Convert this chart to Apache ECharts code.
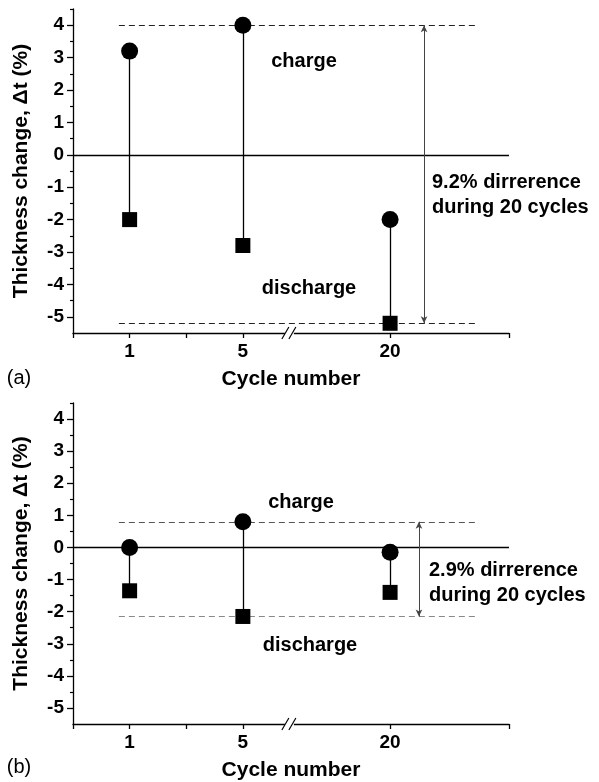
<!DOCTYPE html>
<html>
<head>
<meta charset="utf-8">
<script src="https://cdn.jsdelivr.net/npm/echarts@6/dist/echarts.min.js"></script>
<style>
  html, body { margin: 0; padding: 0; background: #fff; }
  #chart { width: 599px; height: 782px; }
</style>
</head>
<body>
<div id="chart"></div>
<script>
// cycle labels and where they sit on the broken x axis
const cycles = ['1', '5', '20']
const cyclePos = [1, 3, 5.6]
const xTicks = [0, 1, 2, 3, 5.6, 7.7]
const breakPos = 3.83

// panel (a)
const chargeA = [3.2, 4.0, -2.0]
const dischargeA = [-2.0, -2.8, -5.2]
// panel (b)
const chargeB = [0.0, 0.8, -0.15]
const dischargeB = [-1.35, -2.15, -1.4]

const yTicks = [-5, -4, -3, -2, -1, 0, 1, 2, 3, 4]
const yMinor = [-4.5, -3.5, -2.5, -1.5, -0.5, 0.5, 1.5, 2.5, 3.5, 4.5]

const FONT = '"Liberation Sans", Arial, sans-serif'

function xAxis (i) {
  return {
    type: 'value',
    gridIndex: i,
    min: 0,
    max: 7.7,
    name: 'Cycle number',
    nameLocation: 'middle',
    nameGap: 36,
    nameTextStyle: { fontFamily: FONT, fontWeight: 'bold', fontSize: 21, color: '#000' },
    axisLine: { onZero: false, lineStyle: { color: '#000', width: 1.3 } },
    axisTick: { customValues: xTicks, length: 5, lineStyle: { color: '#000', width: 1.3 } },
    axisLabel: {
      customValues: cyclePos,
      formatter: v => cycles[cyclePos.indexOf(v)],
      fontFamily: FONT,
      fontWeight: 'bold',
      fontSize: 19,
      color: '#000',
      margin: 9
    },
    splitLine: { show: false }
  }
}

function yAxes (i) {
  return [{
    type: 'value',
    gridIndex: i,
    min: -5.5,
    max: 4.5,
    name: 'Thickness change, \u0394t (%)',
    nameLocation: 'middle',
    nameRotate: 90,
    nameGap: 41,
    nameTextStyle: { fontFamily: FONT, fontWeight: 'bold', fontSize: 21, color: '#000' },
    axisLine: { show: true, onZero: false, lineStyle: { color: '#000', width: 1.3 } },
    axisTick: { customValues: yTicks, length: 6, lineStyle: { color: '#000', width: 1.3 } },
    axisLabel: {
      customValues: yTicks,
      fontFamily: FONT,
      fontWeight: 'bold',
      fontSize: 19,
      color: '#000',
      margin: 9
    },
    splitLine: { show: false }
  }, {
    type: 'value',
    gridIndex: i,
    min: -5.5,
    max: 4.5,
    position: 'left',
    axisLine: { show: false, onZero: false },
    axisTick: { show: true, customValues: yMinor, length: 3, lineStyle: { color: '#000', width: 1.2 } },
    axisLabel: { show: false },
    splitLine: { show: false }
  }]
}

function panelSeries (i, charge, discharge, arrowX, dashColors) {
  const top = Math.max(...charge)
  const bottom = Math.min(...discharge)
  return [{
    type: 'line',
    xAxisIndex: i,
    yAxisIndex: 2 * i,
    data: [],
    silent: true,
    markLine: {
      silent: true,
      animation: false,
      symbol: 'none',
      label: { show: false },
      data: [
        [{ coord: [0, 0], lineStyle: { color: '#000', width: 1.3, type: 'solid' } }, { coord: [7.7, 0] }],
        [{ coord: [0.81, top], lineStyle: { color: dashColors[0], width: 1, type: [6, 4] } }, { coord: [7.16, top] }],
        [{ coord: [0.81, bottom], lineStyle: { color: dashColors[1], width: 1, type: [6, 4] } }, { coord: [7.16, bottom] }]
      ]
    }
  }, {
    type: 'line',
    xAxisIndex: i,
    yAxisIndex: 2 * i,
    data: [],
    silent: true,
    markLine: {
      silent: true,
      animation: false,
      symbol: ['arrow', 'arrow'],
      symbolSize: [5, 7],
      label: { show: false },
      lineStyle: { color: '#444', width: 1, type: 'solid' },
      data: [[{ coord: [arrowX, top] }, { coord: [arrowX, bottom] }]]
    }
  }, {
    type: 'scatter',
    xAxisIndex: i,
    yAxisIndex: 2 * i,
    symbol: 'circle',
    symbolSize: 17,
    itemStyle: { color: '#000', opacity: 1 },
    z: 5,
    data: cyclePos.map((x, k) => [x, charge[k]]),
    markLine: {
      silent: true,
      animation: false,
      symbol: 'none',
      label: { show: false },
      lineStyle: { color: '#000', width: 1.3, type: 'solid' },
      data: cyclePos.map((x, k) => [{ coord: [x, charge[k]] }, { coord: [x, discharge[k]] }])
    }
  }, {
    type: 'scatter',
    xAxisIndex: i,
    yAxisIndex: 2 * i,
    symbol: 'rect',
    symbolSize: 15,
    itemStyle: { color: '#000', opacity: 1 },
    z: 5,
    data: cyclePos.map((x, k) => [x, discharge[k]])
  }]
}

function txt (x, y, s, opts) {
  return {
    type: 'text',
    x: x,
    y: y,
    z: 10,
    style: Object.assign({
      text: s,
      fontFamily: FONT,
      fontWeight: 'bold',
      fontSize: 20,
      fill: '#000',
      align: 'center',
      verticalAlign: 'middle'
    }, opts || {})
  }
}

const chart = echarts.init(document.getElementById('chart'))
chart.setOption({
  animation: false,
  grid: [
    { left: 73, width: 436, top: 9, height: 324 },
    { left: 73, width: 436, top: 403, height: 324 }
  ],
  xAxis: [xAxis(0), xAxis(1)],
  yAxis: yAxes(0).concat(yAxes(1)),
  series: panelSeries(0, chargeA, dischargeA, 6.2, ['#222', '#222'])
    .concat(panelSeries(1, chargeB, dischargeB, 6.11, ['#555', '#888']))
})

// texts and the "//" axis break marks
const graphics = [
  txt(304, 61, 'charge'),
  txt(309, 288, 'discharge'),
  txt(432, 195, '9.2% dirrerence\nduring 20 cycles', { align: 'left', lineHeight: 25 }),
  txt(19, 378, '(a)', { fontWeight: 'normal', fontSize: 20 }),
  txt(301, 502, 'charge'),
  txt(310, 645, 'discharge'),
  txt(429, 583, '2.9% dirrerence\nduring 20 cycles', { align: 'left', lineHeight: 25 }),
  txt(19, 767, '(b)', { fontWeight: 'normal', fontSize: 20 })
]
;[0, 1].forEach(i => {
  const p = chart.convertToPixel({ xAxisIndex: i, yAxisIndex: 2 * i }, [breakPos, -5.5])
  graphics.push({ type: 'rect', z: 10, shape: { x: p[0] - 5, y: p[1] - 2, width: 9, height: 4 }, style: { fill: '#fff' } })
  graphics.push({ type: 'line', z: 11, shape: { x1: p[0] - 8, y1: p[1] + 6, x2: p[0] - 1, y2: p[1] - 6 }, style: { stroke: '#000', lineWidth: 1.2 } })
  graphics.push({ type: 'line', z: 11, shape: { x1: p[0] - 1, y1: p[1] + 6, x2: p[0] + 6, y2: p[1] - 6 }, style: { stroke: '#000', lineWidth: 1.2 } })
})
chart.setOption({ graphic: graphics })
</script>
</body>
</html>
